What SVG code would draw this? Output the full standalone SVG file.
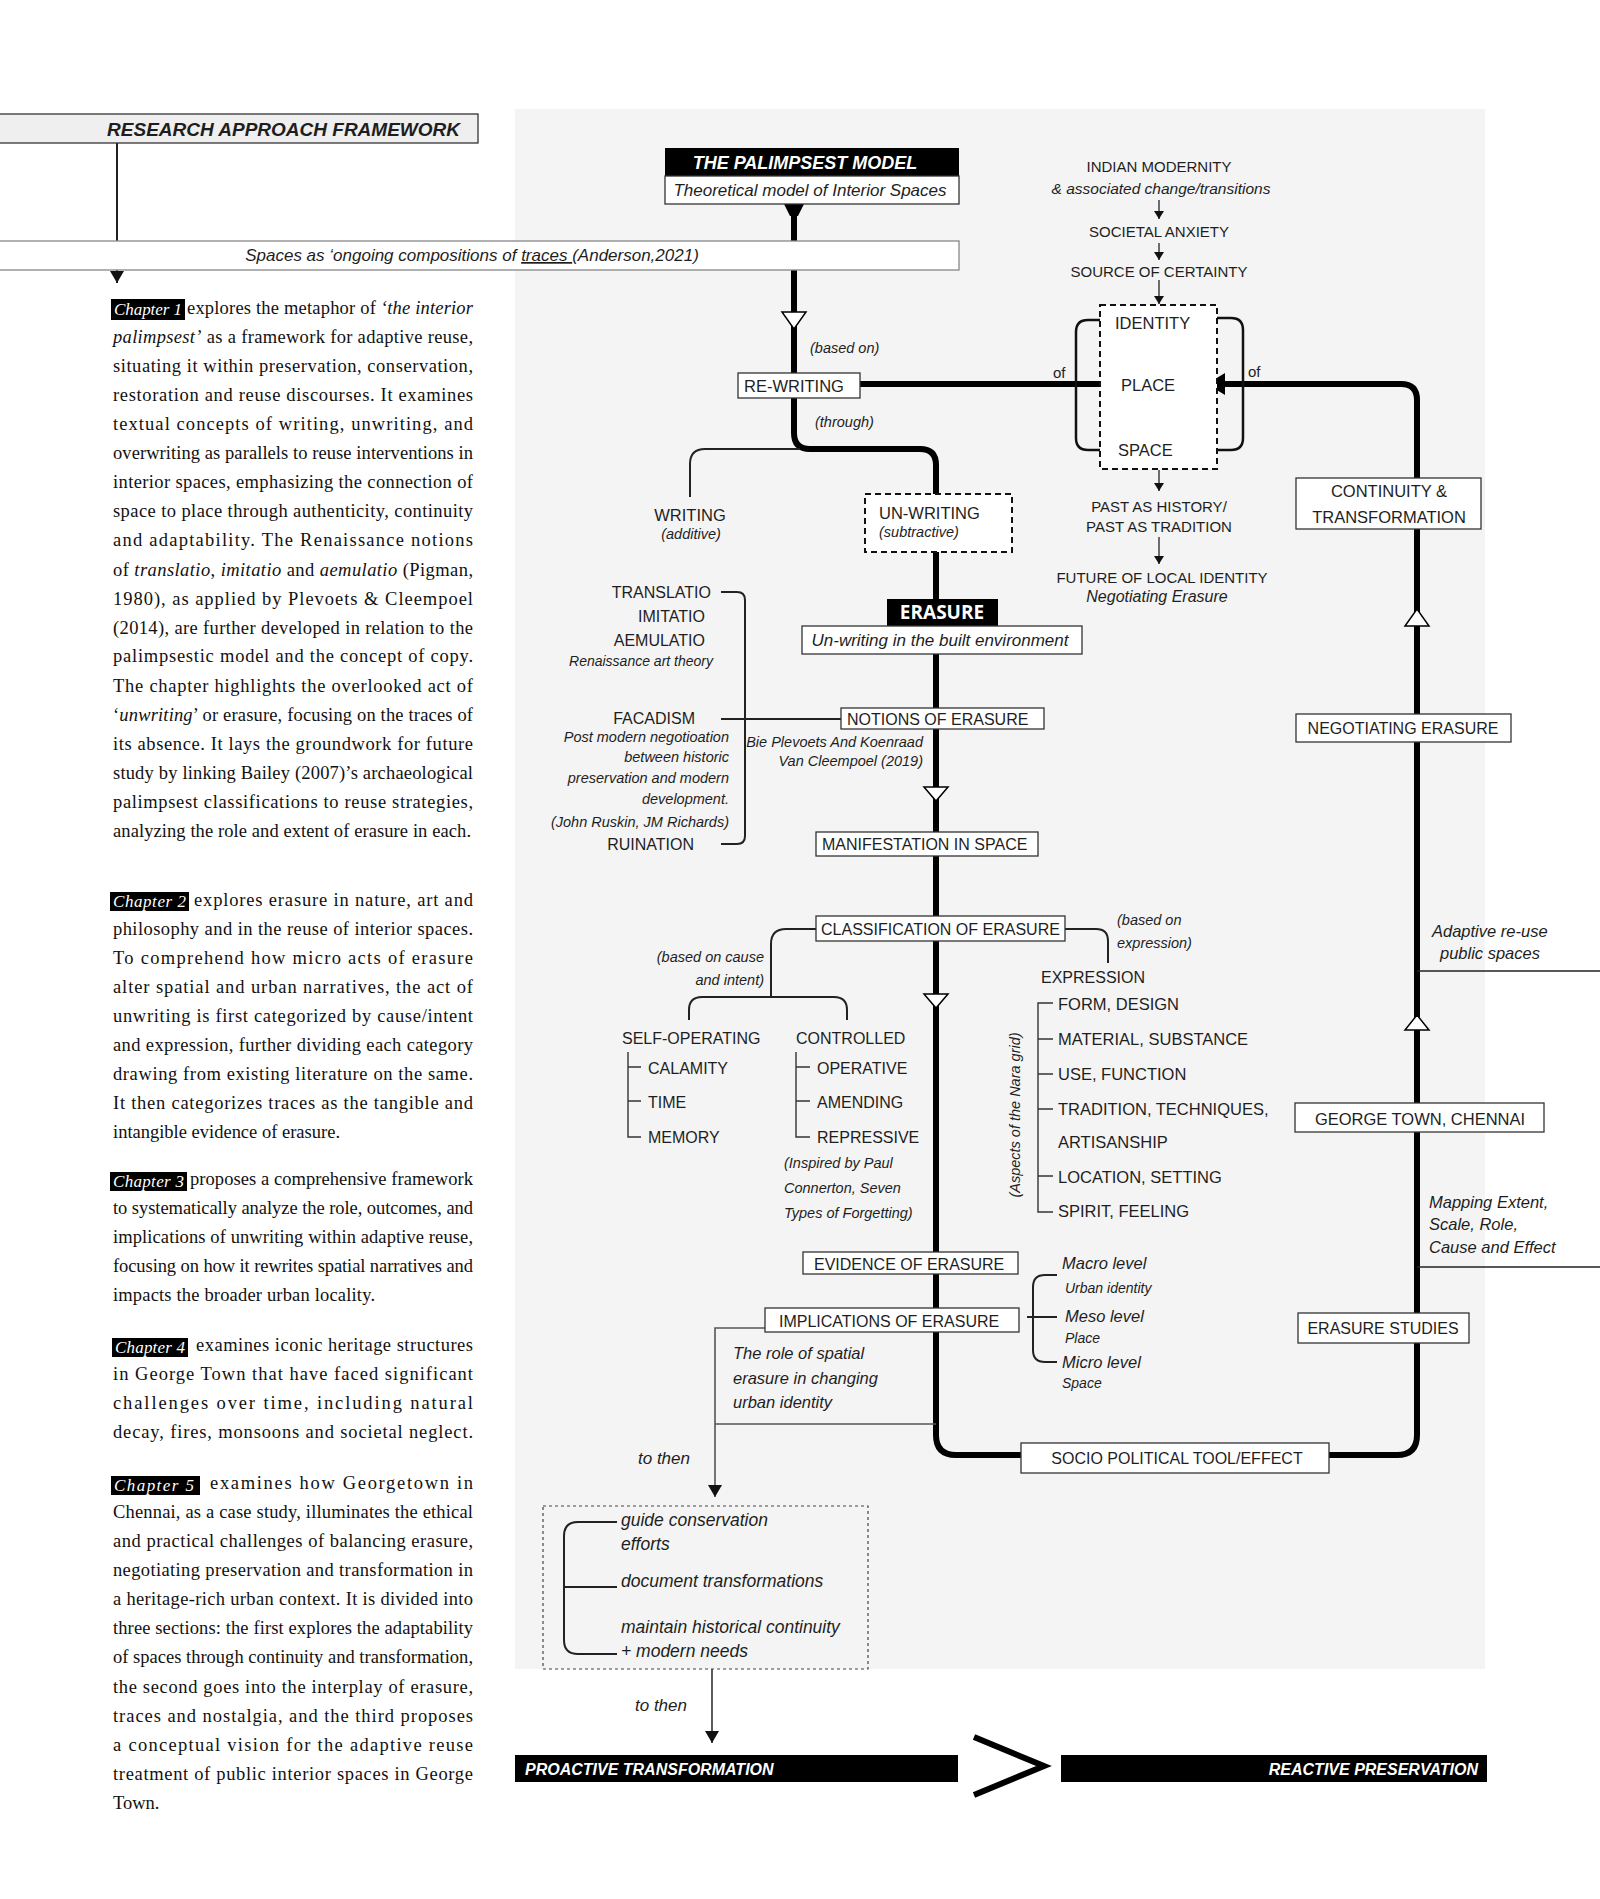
<svg xmlns="http://www.w3.org/2000/svg" width="1600" height="1899" viewBox="0 0 1600 1899">
<defs>
<style>
.s{font-family:"Liberation Sans",Arial,sans-serif;fill:#1e1e1e}
.i{font-style:italic}
.u16{font-size:16px}
.u15{font-size:15px}
.t14{font-size:14.5px}
.t16{font-size:16.5px}
.t17{font-size:17.5px}
.box{fill:#fff;stroke:#333;stroke-width:1.3}
.dash{fill:#fff;stroke:#111;stroke-width:2;stroke-dasharray:6 4}
.thick{fill:none;stroke:#000;stroke-width:6}
.thin{fill:none;stroke:#222;stroke-width:2}
.hair{fill:none;stroke:#333;stroke-width:1.4}
.hol{fill:#fff;stroke:#000;stroke-width:1.5}
.body{font-family:"Liberation Serif","Times New Roman",serif;font-size:18.5px;fill:#111}
.chap{fill:#000}
.chapt{font-family:"Liberation Serif","Times New Roman",serif;font-size:17px;font-style:italic;fill:#fff}
</style>
<marker id="ar" viewBox="0 0 8 10" refX="8" refY="5" markerWidth="8" markerHeight="10" markerUnits="userSpaceOnUse" orient="auto"><path d="M0,0 L8,5 L0,10 z" fill="#111"/></marker>
<marker id="arL" viewBox="0 0 12 14" refX="12" refY="7" markerWidth="12" markerHeight="14" markerUnits="userSpaceOnUse" orient="auto"><path d="M0,0 L12,7 L0,14 z" fill="#111"/></marker>
</defs>
<rect width="1600" height="1899" fill="#fff"/>
<rect id="panel" x="515" y="109" width="970" height="1560" fill="#f4f4f4"/>

<g id="connectors">
<path class="thin" d="M117 143 V283" marker-end="url(#arL)"/>
<polygon points="784,204 804,204 798,216 790,216" fill="#000"/>
<path class="thick" d="M794 212 V433 Q794 449 810 449 H920 Q936 449 936 465 V1435 Q936 1455 956 1455 H1021"/>
<path class="thin" d="M800 449 H705 Q690 449 690 464 V497"/>
<path class="thick" d="M860 384 H1100"/>
<path class="thick" d="M1222 384 H1401 Q1417 384 1417 400 V1435 Q1417 1455 1397 1455 H1329"/>
<polygon points="1207,384 1225,373 1225,395" fill="#000"/>
<path d="M1100 320 H1088 Q1076 320 1076 332 V438 Q1076 450 1088 450 H1100" fill="none" stroke="#111" stroke-width="2.5"/>
<path d="M1217 318 H1231 Q1243 318 1243 330 V438 Q1243 450 1231 450 H1217" fill="none" stroke="#111" stroke-width="2.5"/>
<polygon class="hol" points="782,312 806,312 794,329"/>
<polygon class="hol" points="924,787 948,787 936,801"/>
<polygon class="hol" points="924,994 948,994 936,1008"/>
<polygon class="hol" points="1405,626 1429,626 1417,609"/>
<polygon class="hol" points="1405,1030 1429,1030 1417,1015"/>
<path class="hair" d="M1159 200 V219" marker-end="url(#ar)"/>
<path class="hair" d="M1159 243 V260" marker-end="url(#ar)"/>
<path class="hair" d="M1159 280 V304" marker-end="url(#ar)"/>
<path class="hair" d="M1159 470 V491" marker-end="url(#ar)"/>
<path class="hair" d="M1159 537 V564" marker-end="url(#ar)"/>
<path class="thin" d="M721 592 H737 Q745 592 745 600 V836 Q745 844 737 844 H721"/>
<path class="thin" d="M721 719 H841"/>
<path class="thin" d="M816 929 H786 Q771 929 771 944 V997"/>
<path class="thin" d="M689 1020 V1010 Q689 997 702 997 H834 Q847 997 847 1010 V1020"/>
<path class="thin" d="M1065 929 H1096 Q1108 929 1108 941 V963"/>
<path class="hair" d="M628 1052 V1137 H641 M628 1067 H641 M628 1101 H641"/>
<path class="hair" d="M796 1052 V1137 H810 M796 1067 H810 M796 1101 H810"/>
<path class="hair" d="M1053 1003 H1038 V1212 H1053 M1038 1039 H1053 M1038 1074 H1053 M1038 1109 H1053 M1038 1176 H1053"/>
<path class="thin" d="M1057 1275 H1045 Q1033 1275 1033 1287 V1350 Q1033 1362 1045 1362 H1057 M1027 1317 H1057"/>
<path d="M765 1328 H715 V1497" fill="none" stroke="#555" stroke-width="1.6" marker-end="url(#arL)"/>
<path d="M715 1424 H936" fill="none" stroke="#555" stroke-width="1.6"/>
<path d="M712 1669 V1743" fill="none" stroke="#333" stroke-width="1.6" marker-end="url(#arL)"/>
<path d="M1417 971 H1600 M1417 1267 H1600" fill="none" stroke="#222" stroke-width="1.4"/>
</g>

<g id="header">
<rect x="-2" y="114" width="480" height="29" fill="#efefef" stroke="#333" stroke-width="1.3"/>
<text class="s" x="460" y="136" text-anchor="end" font-size="19" font-weight="bold" font-style="italic">RESEARCH APPROACH FRAMEWORK</text>
</g>
<g id="spaces">
<rect x="-2" y="241" width="961" height="29" fill="#fff" stroke="#888" stroke-width="1.3"/>
<text class="s i" x="472" y="261" text-anchor="middle" font-size="17">Spaces as ‘ongoing compositions of <tspan text-decoration="underline">traces </tspan>(Anderson,2021)</text>
</g>
<g id="palimpsest">
<rect x="665" y="148" width="294" height="28" fill="#000"/>
<text x="805" y="169" text-anchor="middle" font-family="Liberation Sans,Arial,sans-serif" font-size="18" font-weight="bold" font-style="italic" fill="#fff">THE PALIMPSEST MODEL</text>
<rect class="box" x="665" y="176" width="294" height="28"/>
<text class="s i" x="810" y="196" text-anchor="middle" font-size="17">Theoretical model of Interior Spaces</text>
</g>
<g id="rewriting">
<rect class="box" x="738" y="373" width="122" height="25"/>
<text class="s t16" x="744" y="392">RE-WRITING</text>
<text class="s i t14" x="810" y="353">(based on)</text>
<text class="s i t14" x="815" y="427">(through)</text>
</g>
<g id="identity">
<rect class="dash" x="1100" y="305" width="117" height="164"/>
<text class="s t16" x="1115" y="329">IDENTITY</text>
<text class="s t16" x="1121" y="391">PLACE</text>
<text class="s t16" x="1118" y="456">SPACE</text>
<text class="s u15" x="1053" y="378">of</text>
<text class="s u15" x="1248" y="377">of</text>
</g>
<g id="modernity">
<text class="s u15" x="1159" y="172" text-anchor="middle">INDIAN MODERNITY</text>
<text class="s i" x="1161" y="194" text-anchor="middle" font-size="15.5">&amp; associated change/transitions</text>
<text class="s u15" x="1159" y="237" text-anchor="middle">SOCIETAL ANXIETY</text>
<text class="s u15" x="1159" y="277" text-anchor="middle">SOURCE OF CERTAINTY</text>
</g>
<g id="future">
<text class="s u15" x="1159" y="512" text-anchor="middle">PAST AS HISTORY/</text>
<text class="s u15" x="1159" y="532" text-anchor="middle">PAST AS TRADITION</text>
<text class="s u15" x="1162" y="583" text-anchor="middle">FUTURE OF LOCAL IDENTITY</text>
<text class="s i" x="1157" y="602" text-anchor="middle" font-size="16">Negotiating Erasure</text>
</g>
<g id="writing">
<text class="s t16" x="690" y="521" text-anchor="middle">WRITING</text>
<text class="s i t14" x="691" y="539" text-anchor="middle">(additive)</text>
</g>
<g id="unwriting">
<rect class="dash" x="865" y="494" width="147" height="58"/>
<text class="s t16" x="879" y="519">UN-WRITING</text>
<text class="s i t14" x="879" y="537">(subtractive)</text>
</g>
<g id="erasure">
<rect x="887" y="599" width="111" height="27" fill="#000"/>
<text x="942" y="619" text-anchor="middle" font-family="Open Sans,Liberation Sans,sans-serif" font-size="19" font-weight="bold" fill="#fff">ERASURE</text>
<rect class="box" x="802" y="626" width="280" height="28"/>
<text class="s i" x="940" y="646" text-anchor="middle" font-size="17">Un-writing in the built environment</text>
</g>
<g id="renaissance">
<text class="s u16" x="711" y="598" text-anchor="end">TRANSLATIO</text>
<text class="s u16" x="705" y="622" text-anchor="end">IMITATIO</text>
<text class="s u16" x="705" y="646" text-anchor="end">AEMULATIO</text>
<text class="s i" x="713" y="666" text-anchor="end" font-size="14">Renaissance art theory</text>
<text class="s u16" x="695" y="724" text-anchor="end">FACADISM</text>
<text class="s i t14" x="729" y="742" text-anchor="end">Post modern negotioation</text>
<text class="s i t14" x="729" y="762" text-anchor="end">between historic</text>
<text class="s i t14" x="729" y="783" text-anchor="end">preservation and modern</text>
<text class="s i t14" x="729" y="804" text-anchor="end">development.</text>
<text class="s i t14" x="729" y="827" text-anchor="end">(John Ruskin, JM Richards)</text>
<text class="s u16" x="694" y="850" text-anchor="end">RUINATION</text>
</g>
<g id="notions">
<rect class="box" x="841" y="708" width="203" height="21"/>
<text class="s u16" x="847" y="725">NOTIONS OF ERASURE</text>
<text class="s i t14" x="923" y="747" text-anchor="end">Bie Plevoets And Koenraad</text>
<text class="s i t14" x="923" y="766" text-anchor="end">Van Cleempoel (2019)</text>
</g>
<g id="manifestation">
<rect class="box" x="816" y="832" width="222" height="24"/>
<text class="s u16" x="822" y="850">MANIFESTATION IN SPACE</text>
</g>
<g id="classification">
<rect class="box" x="816" y="916" width="249" height="25"/>
<text class="s u16" x="821" y="935">CLASSIFICATION OF ERASURE</text>
<text class="s i t14" x="764" y="962" text-anchor="end">(based on cause</text>
<text class="s i t14" x="764" y="985" text-anchor="end">and intent)</text>
<text class="s i t14" x="1117" y="925">(based on</text>
<text class="s i t14" x="1117" y="948">expression)</text>
</g>
<g id="selfoperating">
<text class="s u16" x="622" y="1044">SELF-OPERATING</text>
<text class="s u16" x="648" y="1074">CALAMITY</text>
<text class="s u16" x="648" y="1108">TIME</text>
<text class="s u16" x="648" y="1143">MEMORY</text>
</g>
<g id="controlled">
<text class="s u16" x="796" y="1044">CONTROLLED</text>
<text class="s u16" x="817" y="1074">OPERATIVE</text>
<text class="s u16" x="817" y="1108">AMENDING</text>
<text class="s u16" x="817" y="1143">REPRESSIVE</text>
<text class="s i t14" x="784" y="1168">(Inspired by Paul</text>
<text class="s i t14" x="784" y="1193">Connerton, Seven</text>
<text class="s i t14" x="784" y="1218">Types of Forgetting)</text>
</g>
<g id="expression">
<text class="s u16" x="1041" y="983">EXPRESSION</text>
<text class="s t16" x="1058" y="1010">FORM, DESIGN</text>
<text class="s t16" x="1058" y="1045">MATERIAL, SUBSTANCE</text>
<text class="s t16" x="1058" y="1080">USE, FUNCTION</text>
<text class="s t16" x="1058" y="1115">TRADITION, TECHNIQUES,</text>
<text class="s t16" x="1058" y="1148">ARTISANSHIP</text>
<text class="s t16" x="1058" y="1183">LOCATION, SETTING</text>
<text class="s t16" x="1058" y="1217">SPIRIT, FEELING</text>
<text class="s i t14" x="1020" y="1115" text-anchor="middle" transform="rotate(-90 1020 1115)">(Aspects of the Nara grid)</text>
</g>
<g id="evidence">
<rect class="box" x="803" y="1252" width="215" height="22"/>
<text class="s u16" x="814" y="1270">EVIDENCE OF ERASURE</text>
</g>
<g id="implications">
<rect class="box" x="765" y="1308" width="254" height="24"/>
<text class="s u16" x="779" y="1327">IMPLICATIONS OF ERASURE</text>
<text class="s i t16" x="733" y="1359">The role of spatial</text>
<text class="s i t16" x="733" y="1384">erasure in changing</text>
<text class="s i t16" x="733" y="1408">urban identity</text>
<text class="s i" x="638" y="1464" font-size="17">to then</text>
</g>
<g id="levels">
<text class="s i t16" x="1062" y="1269">Macro level</text>
<text class="s i" x="1065" y="1293" font-size="14">Urban identity</text>
<text class="s i t16" x="1065" y="1322">Meso level</text>
<text class="s i" x="1065" y="1343" font-size="14">Place</text>
<text class="s i t16" x="1062" y="1368">Micro level</text>
<text class="s i" x="1062" y="1388" font-size="14">Space</text>
</g>
<g id="socio">
<rect class="box" x="1021" y="1443" width="308" height="30"/>
<text class="s u16" x="1177" y="1464" text-anchor="middle">SOCIO POLITICAL TOOL/EFFECT</text>
</g>
<g id="continuity">
<rect class="box" x="1296" y="478" width="185" height="51"/>
<text class="s t16" x="1389" y="497" text-anchor="middle">CONTINUITY &amp;</text>
<text class="s t16" x="1389" y="523" text-anchor="middle">TRANSFORMATION</text>
</g>
<g id="negotiating">
<rect class="box" x="1296" y="714" width="215" height="28"/>
<text class="s u16" x="1403" y="734" text-anchor="middle">NEGOTIATING ERASURE</text>
</g>
<g id="adaptive">
<text class="s i t16" x="1432" y="937">Adaptive re-use</text>
<text class="s i t16" x="1440" y="959">public spaces</text>
</g>
<g id="georgetown">
<rect class="box" x="1295" y="1103" width="249" height="29"/>
<text class="s t16" x="1420" y="1125" text-anchor="middle">GEORGE TOWN, CHENNAI</text>
</g>
<g id="mapping">
<text class="s i t16" x="1429" y="1208">Mapping Extent,</text>
<text class="s i t16" x="1429" y="1230">Scale, Role,</text>
<text class="s i t16" x="1429" y="1253">Cause and Effect</text>
</g>
<g id="erasurestudies">
<rect class="box" x="1298" y="1313" width="171" height="30"/>
<text class="s u16" x="1383" y="1334" text-anchor="middle">ERASURE STUDIES</text>
</g>
<g id="outcomes">
<rect x="543" y="1506" width="325" height="163" fill="none" stroke="#444" stroke-width="1.2" stroke-dasharray="3 3"/>
<path class="thin" d="M617 1522 H578 Q564 1522 564 1536 V1640 Q564 1654 578 1654 H617 M564 1587 H617"/>
<text class="s i t17" x="621" y="1526">guide conservation</text>
<text class="s i t17" x="621" y="1550">efforts</text>
<text class="s i t17" x="621" y="1587">document transformations</text>
<text class="s i t17" x="621" y="1633">maintain historical continuity</text>
<text class="s i t17" x="621" y="1657">+ modern needs</text>
<text class="s i" x="635" y="1711" font-size="17">to then</text>
</g>
<g id="proactive">
<rect x="515" y="1755" width="443" height="27" fill="#000"/>
<text x="525" y="1775" font-family="Liberation Sans,Arial,sans-serif" font-size="16" font-weight="bold" font-style="italic" fill="#fff">PROACTIVE TRANSFORMATION</text>
</g>
<g id="comparison">
<polyline points="974,1737 1044,1766 974,1795" fill="none" stroke="#000" stroke-width="6"/>
</g>
<g id="reactive">
<rect x="1061" y="1755" width="426" height="27" fill="#000"/>
<text x="1478" y="1775" text-anchor="end" font-family="Liberation Sans,Arial,sans-serif" font-size="16" font-weight="bold" font-style="italic" fill="#fff">REACTIVE PRESERVATION</text>
</g>

<g id="chapter1">
<rect class="chap" x="111" y="299" width="74" height="21"/>
<text class="chapt" x="114" y="315" textLength="68">Chapter 1</text>
<text class="body" x="187" y="314" textLength="286">explores the metaphor of <tspan font-style="italic">‘the interior</tspan></text>
<text class="body" x="113" y="343" textLength="360"><tspan font-style="italic">palimpsest’</tspan> as a framework for adaptive reuse,</text>
<text class="body" x="113" y="372" textLength="360">situating it within preservation, conservation,</text>
<text class="body" x="113" y="401" textLength="360">restoration and reuse discourses. It examines</text>
<text class="body" x="113" y="430" textLength="360">textual concepts of writing, unwriting, and</text>
<text class="body" x="113" y="459" textLength="360">overwriting as parallels to reuse interventions in</text>
<text class="body" x="113" y="488" textLength="360">interior spaces, emphasizing the connection of</text>
<text class="body" x="113" y="517" textLength="360">space to place through authenticity, continuity</text>
<text class="body" x="113" y="546" textLength="360">and adaptability. The Renaissance notions</text>
<text class="body" x="113" y="576" textLength="360">of <tspan font-style="italic">translatio</tspan>, <tspan font-style="italic">imitatio</tspan> and <tspan font-style="italic">aemulatio</tspan> (Pigman,</text>
<text class="body" x="113" y="605" textLength="360">1980), as applied by Plevoets &amp; Cleempoel</text>
<text class="body" x="113" y="634" textLength="360">(2014), are further developed in relation to the</text>
<text class="body" x="113" y="662" textLength="360">palimpsestic model and the concept of copy.</text>
<text class="body" x="113" y="692" textLength="360">The chapter highlights the overlooked act of</text>
<text class="body" x="113" y="721" textLength="360">‘<tspan font-style="italic">unwriting</tspan>’ or erasure, focusing on the traces of</text>
<text class="body" x="113" y="750" textLength="360">its absence. It lays the groundwork for future</text>
<text class="body" x="113" y="779" textLength="360">study by linking Bailey (2007)’s archaeological</text>
<text class="body" x="113" y="808" textLength="360">palimpsest classifications to reuse strategies,</text>
<text class="body" x="113" y="837" textLength="358">analyzing the role and extent of erasure in each.</text>
</g>
<g id="chapter2">
<rect class="chap" x="110" y="892" width="79" height="19"/>
<text class="chapt" x="113" y="907" textLength="73">Chapter 2</text>
<text class="body" x="194" y="906" textLength="279">explores erasure in nature, art and</text>
<text class="body" x="113" y="935" textLength="360">philosophy and in the reuse of interior spaces.</text>
<text class="body" x="113" y="964" textLength="360">To comprehend how micro acts of erasure</text>
<text class="body" x="113" y="993" textLength="360">alter spatial and urban narratives, the act of</text>
<text class="body" x="113" y="1022" textLength="360">unwriting is first categorized by cause/intent</text>
<text class="body" x="113" y="1051" textLength="360">and expression, further dividing each category</text>
<text class="body" x="113" y="1080" textLength="360">drawing from existing literature on the same.</text>
<text class="body" x="113" y="1109" textLength="360">It then categorizes traces as the tangible and</text>
<text class="body" x="113" y="1138" textLength="227">intangible evidence of erasure.</text>
</g>
<g id="chapter3">
<rect class="chap" x="110" y="1172" width="77" height="19"/>
<text class="chapt" x="113" y="1187" textLength="71">Chapter 3</text>
<text class="body" x="190" y="1185" textLength="283">proposes a comprehensive framework</text>
<text class="body" x="113" y="1214" textLength="360">to systematically analyze the role, outcomes, and</text>
<text class="body" x="113" y="1243" textLength="360">implications of unwriting within adaptive reuse,</text>
<text class="body" x="113" y="1272" textLength="360">focusing on how it rewrites spatial narratives and</text>
<text class="body" x="113" y="1301" textLength="262">impacts the broader urban locality.</text>
</g>
<g id="chapter4">
<rect class="chap" x="112" y="1338" width="76" height="19"/>
<text class="chapt" x="115" y="1353" textLength="70">Chapter 4</text>
<text class="body" x="196" y="1351" textLength="277">examines iconic heritage structures</text>
<text class="body" x="113" y="1380" textLength="360">in George Town that have faced significant</text>
<text class="body" x="113" y="1409" textLength="360">challenges over time, including natural</text>
<text class="body" x="113" y="1438" textLength="360">decay, fires, monsoons and societal neglect.</text>
</g>
<g id="chapter5">
<rect class="chap" x="111" y="1476" width="89" height="19"/>
<text class="chapt" x="114" y="1491" textLength="80">Chapter 5</text>
<text class="body" x="210" y="1489" textLength="263">examines how Georgetown in</text>
<text class="body" x="113" y="1518" textLength="360">Chennai, as a case study, illuminates the ethical</text>
<text class="body" x="113" y="1547" textLength="360">and practical challenges of balancing erasure,</text>
<text class="body" x="113" y="1576" textLength="360">negotiating preservation and transformation in</text>
<text class="body" x="113" y="1605" textLength="360">a heritage-rich urban context. It is divided into</text>
<text class="body" x="113" y="1634" textLength="360">three sections: the first explores the adaptability</text>
<text class="body" x="113" y="1663" textLength="360">of spaces through continuity and transformation,</text>
<text class="body" x="113" y="1693" textLength="360">the second goes into the interplay of erasure,</text>
<text class="body" x="113" y="1722" textLength="360">traces and nostalgia, and the third proposes</text>
<text class="body" x="113" y="1751" textLength="360">a conceptual vision for the adaptive reuse</text>
<text class="body" x="113" y="1780" textLength="360">treatment of public interior spaces in George</text>
<text class="body" x="113" y="1809">Town.</text>
</g>
</svg>
